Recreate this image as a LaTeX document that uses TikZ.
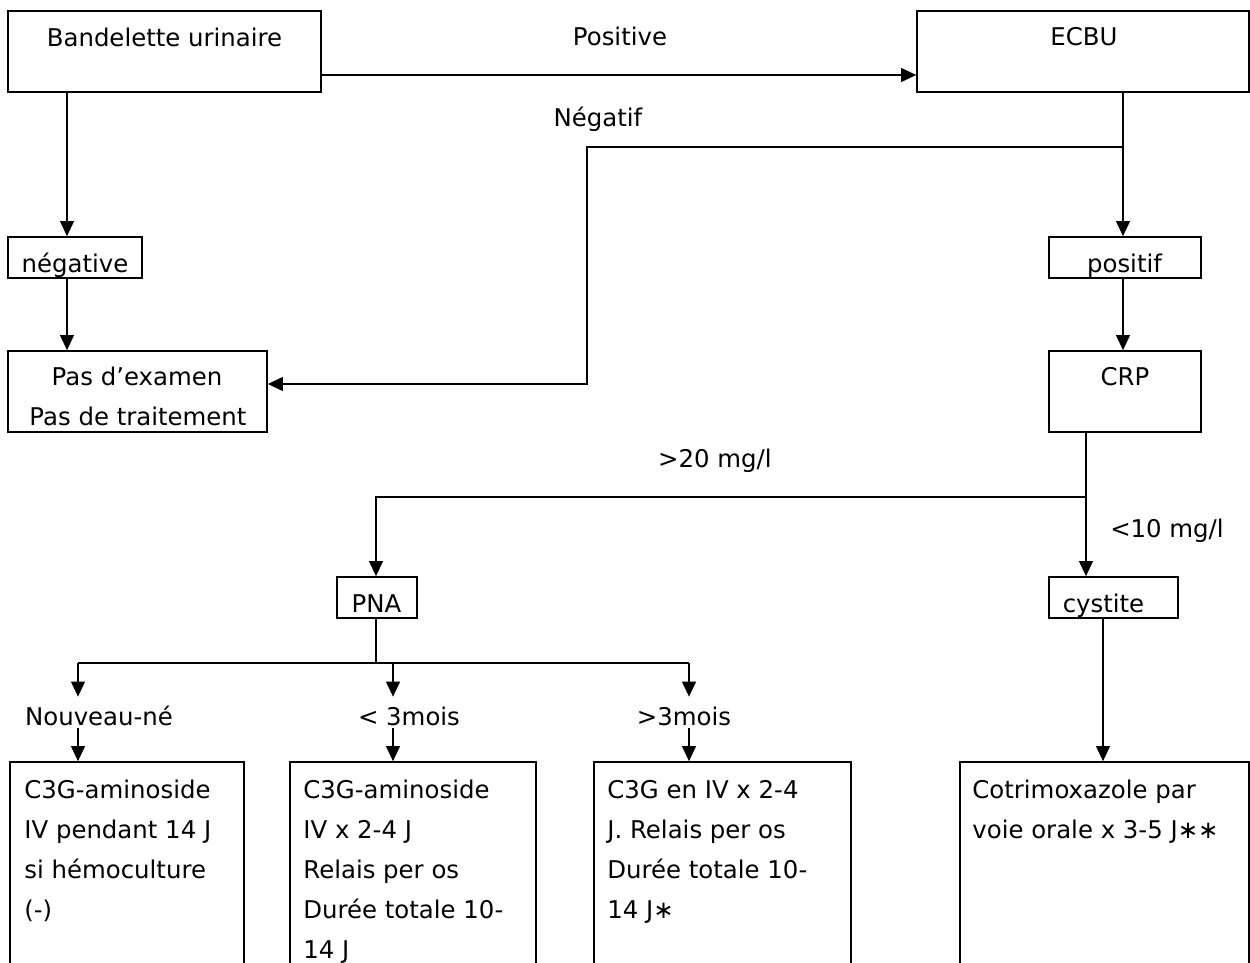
\documentclass[tikz,border=0pt]{standalone}
\usepackage{fontspec}
\setmainfont{DejaVu Sans}
\usetikzlibrary{arrows.meta}
\tikzset{
	box/.style={draw, line width=0.9pt, inner sep=0pt},
	lbl/.style={anchor=base, inner sep=0pt},
	brlbl/.style={anchor=base, inner sep=0pt, text height=14pt, text depth=1.5pt},
	boxtxt/.style={anchor=north west, inner sep=0pt, align=left},
	ln/.style={line width=0.6pt},
	arr/.style={ln, -{Triangle[width=7pt,length=7.5pt]}}
}
\newcommand{\fststrut}{\rule{0pt}{10pt}}

\begin{document}
\begin{tikzpicture}[x=0.5pt, y=-0.5pt, font=\fontsize{12.2}{20}\selectfont]
		\useasboundingbox (0,0) rectangle (1250,963);
		\node[box, minimum width=156.5pt, minimum height=40.5pt] (bu) at (164.5,51.5) {};
		\node[box, minimum width=166pt, minimum height=40.5pt] (ecbu) at (1083,51.5) {};
		\node[box, minimum width=67pt, minimum height=20.5pt] (neg) at (75,257.5) {};
		\node[box, minimum width=76pt, minimum height=20.5pt] (pos) at (1125,257.5) {};
		\node[box, minimum width=129.5pt, minimum height=40.5pt] (pas) at (137.5,391.5) {};
		\node[box, minimum width=76pt, minimum height=40.5pt] (crp) at (1125,391.5) {};
		\node[box, minimum width=40pt, minimum height=20.5pt] (pna) at (377,597.5) {};
		\node[box, minimum width=64.5pt, minimum height=20.5pt] (cys) at (1113.5,597.5) {};
		\node[box, minimum width=117pt, minimum height=125pt] (b1) at (127,887) {};
		\node[box, minimum width=123pt, minimum height=125pt] (b2) at (413,887) {};
		\node[box, minimum width=128.5pt, minimum height=125pt] (b3) at (722.5,887) {};
		\node[box, minimum width=144.5pt, minimum height=125pt] (b4) at (1104.5,887) {};

		\node[lbl] (tbu) at (164.5,46.5) {Bandelette urinaire};
		\node[lbl] (tecbu) at (1084,45.5) {ECBU};
		\node[lbl] (tneg) at (75,272) {négative};
		\node[lbl] (tpos) at (1124.5,272) {positif};
		\node[lbl] (tpas1) at (137,386) {Pas d’examen};
		\node[lbl] (tpas2) at (138,425) {Pas de traitement};
		\node[lbl] (tcrp) at (1125,386) {CRP};
		\node[lbl] (tpna) at (376.5,612) {PNA};
		\node[lbl] (tcys) at (1103.5,612) {cystite};
		\node[boxtxt] (t1) at (24,778) {\fststrut C3G-aminoside\\IV pendant 14 J\\si hémoculture\\(-)};
		\node[boxtxt] (t2) at (303,778) {\fststrut C3G-aminoside\\IV x 2-4 J\\Relais per os\\Durée totale 10-\\14 J};
		\node[boxtxt] (t3) at (607,778) {\fststrut C3G en IV x 2-4\\J. Relais per os\\Durée totale 10-\\14 J∗};
		\node[boxtxt] (t4) at (972,778) {\fststrut Cotrimoxazole par\\voie orale x 3-5 J∗∗};

		\node[lbl] (lpos) at (620,46) {Positive};
		\node[lbl] (lneg) at (598,127) {Négatif};
		\node[lbl] (lsup) at (715,467) {>20 mg/l};
		\node[lbl] (linf) at (1167,538) {<10 mg/l};
		\node[brlbl] (lnn) at (99,725) {Nouveau-né};
		\node[brlbl] (lm3) at (409,725) {< 3mois};
		\node[brlbl] (lp3) at (684,725) {>3mois};

		\coordinate (jneg) at (1123,147);
		\coordinate (jcrp) at (1086,497);
		\coordinate (jpna) at (376,663);

		\draw[arr] ([yshift=-11.75pt]bu.east) -- ([yshift=-11.75pt]ecbu.west);
		\draw[arr] (bu.south -| 67,0) -- (neg.north -| 67,0);
		\draw[arr] (neg.south -| 67,0) -- (pas.north -| 67,0);
		\draw[arr] (ecbu.south -| jneg) -- (pos.north -| jneg);
		\draw[arr] (jneg) -| (587,384) -- ([yshift=3.75pt]pas.east);
		\draw[arr] (pos.south -| jneg) -- (crp.north -| jneg);
		\draw[ln] (crp.south -| jcrp) -- (jcrp);
		\draw[arr] (jcrp) -| (pna.north -| jpna);
		\draw[arr] (jcrp) -- (cys.north -| jcrp);
		\draw[ln] (pna.south -| jpna) -- (jpna);
		\draw[ln] (jpna -| 78,0) -- (jpna -| 689,0);
		\foreach \xx/\nm/\bx in {78/lnn/b1, 393/lm3/b2, 689/lp3/b3}{
			\draw[arr] (jpna -| \xx,0) -- (\nm.north -| \xx,0);
			\draw[arr] (\nm.south -| \xx,0) -- (\bx.north -| \xx,0);
		}
		\draw[arr] (cys.south -| 1103,0) -- (b4.north -| 1103,0);
	\end{tikzpicture}
\end{document}
